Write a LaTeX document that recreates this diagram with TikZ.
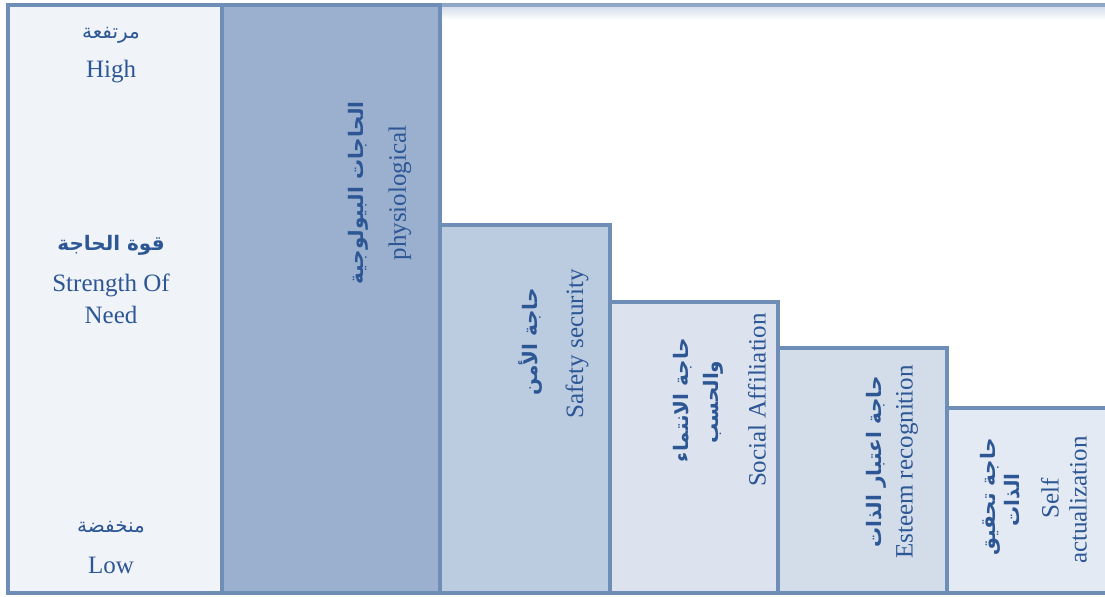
\documentclass[tikz,border=0pt]{standalone}
\usepackage{fontspec}
\setmainfont{Liberation Serif}
\newfontfamily\arabicfont[Script=Arabic]{DejaVu Sans}
\TeXXeTstate=1

\definecolor{framecol}{RGB}{111,142,183}
\definecolor{linecol}{RGB}{143,167,199}
\definecolor{shadecol}{RGB}{214,223,236}
\definecolor{txtcol}{RGB}{44,86,148}
\definecolor{leftfill}{RGB}{240,244,249}
\definecolor{physfill}{RGB}{154,176,206}
\definecolor{safefill}{RGB}{187,203,224}
\definecolor{socfill}{RGB}{220,227,238}
\definecolor{estfill}{RGB}{211,221,234}
\definecolor{selffill}{RGB}{228,234,243}

\newcommand{\artxt}[1]{{\arabicfont\beginR #1\endR}}

\begin{document}
\begin{tikzpicture}[x=0.5pt, y=-0.5pt,
  bar/.style={draw=framecol, line width=2pt},
  entxt/.style={text=txtcol, inner sep=0pt, font=\fontsize{12.5}{15}\selectfont},
  artx/.style={text=txtcol, inner sep=0pt, font=\arabicfont\fontsize{10}{12}\selectfont},
  arbf/.style={artx, font=\arabicfont\bfseries\fontsize{10}{12}\selectfont},
  up/.style={rotate=90}]
\useasboundingbox (0,0) rectangle (1105,596);
\clip (0,0) rectangle (1105,596);

% chart frame (only its top shows)
\shade[top color=shadecol, bottom color=white] (440,7) rectangle (1105,20);
\draw[linecol, line width=2pt] (440,5) -- (1110,5);

% steps
\draw[bar, fill=leftfill] (8,5) rectangle (222,593);
\draw[bar, fill=physfill] (222,5) rectangle (440,593);
\draw[bar, fill=safefill] (440,225) rectangle (610,593);
\draw[bar, fill=socfill]  (610,302) rectangle (778,593);
\draw[bar, fill=estfill]  (778,348) rectangle (947,593);
\draw[bar, fill=selffill] (947,408) rectangle (1115,593);

% strength axis
\node[artx]  (highar)  at (111,35)  {\artxt{مرتفعة}};
\node[entxt] (high)    at (111,72)  {High};
\node[arbf]  (needar)  at (111,245) {\artxt{قوة الحاجة}};
\node[entxt] (need)    at (111,301) {\begin{tabular}{@{}c@{}}Strength Of\\[1pt] Need\end{tabular}};
\node[artx]  (lowar)   at (111,527) {\artxt{منخفضة}};
\node[entxt] (low)     at (111,565) {Low};

% labels of the steps
\node[arbf, up]  (physar) at (358,193) {\artxt{الحاجات البيولوجية}};
\node[entxt, up] (phys)   at (400,193) {physiological};
\node[arbf, up]  (safear) at (530,342) {\artxt{حاجة الأمن}};
\node[entxt, up] (safe)   at (577,344) {Safety security};
\node[arbf, up]  (socar)  at (683,400) {\artxt{حاجة الانتماء}};
\node[arbf, up]  (socarb) at (713,402) {\artxt{والحسب}};
\node[entxt, up] (soc)    at (757,400) {Social Affiliation};
\node[arbf, up]  (estar)  at (876,462) {\artxt{حاجة اعتبار الذات}};
\node[entxt, up] (est)    at (907,462) {Esteem recognition};
\node[arbf, up]  (selfar) at (990,497) {\artxt{حاجة تحقيق}};
\node[arbf, up]  (selfarb) at (1012,500) {\artxt{الذات}};
\node[entxt, up] (self)   at (1050,498) {Self};
\node[entxt, up] (selfb)  at (1078,500) {actualization};
\end{tikzpicture}
\end{document}
